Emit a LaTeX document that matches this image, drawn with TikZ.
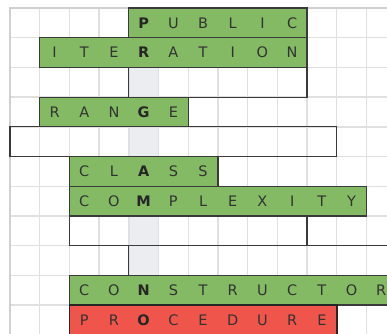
\documentclass[tikz,border=0pt]{standalone}
\usepackage{fontspec}
\setmainfont{DejaVu Sans}
\definecolor{gridc}{HTML}{E0E0E0}
\definecolor{gridouter}{HTML}{D0D0D0}
\definecolor{keyc}{HTML}{ECEDF0}
\definecolor{greenf}{HTML}{84BA64}
\definecolor{redf}{HTML}{F0554B}
\definecolor{edgec}{HTML}{3A3A3A}
\definecolor{txtc}{HTML}{333333}
\tikzset{
  gridline/.style={draw=gridc, line width=1.4pt},
  outerline/.style={draw=gridouter, line width=1.6pt},
  keycell/.style={fill=keyc, draw=none},
  greenbox/.style={fill=greenf, draw=edgec, line width=1.2pt},
  redbox/.style={fill=redf, draw=black!85, line width=1.8pt},
  emptyedge/.style={draw=edgec, line width=1.2pt},
  letter/.style={anchor=base, inner sep=0pt, text=txtc, font=\fontsize{14.5}{15}\selectfont},
  keyletter/.style={letter, text=black!85, font=\fontsize{14.5}{15}\selectfont\bfseries}
}
\newcommand\gx[1]{{10+29.7*(#1)}}
\newcommand\gy[1]{{8+29.7*(#1)}}
% #1 name, #2 row, #3 start col, #4 length, #5 letters, #6 box style
\newcommand\wordrow[6]{%
  \draw[#6] (\gx{#3},\gy{#2}) rectangle (\gx{#3+#4},\gy{#2+1});
  \foreach \l [count=\k from 0] in {#5} {
    \pgfmathtruncatemacro\cc{#3+\k}
    \ifnum\cc=4
      \node[keyletter] (#1-\k) at ({10+29.7*(\cc+0.5)},{8+29.7*(#2+0.5)+5.3}) {\l};
    \else
      \node[letter] (#1-\k) at ({10+29.7*(\cc+0.5)},{8+29.7*(#2+0.5)+5.3}) {\l};
    \fi
  }%
}
\begin{document}
\begin{tikzpicture}[x=1pt,y=-1pt]
\useasboundingbox (0,0) rectangle (387,333);
\clip (0,0) rectangle (387,333);
\fill[white] (0,0) rectangle (387,333);
% key column highlight in empty rows
\foreach \r in {2,4,7,8} {
  \fill[keycell] (\gx{4},\gy{\r}) rectangle (\gx{5},\gy{\r+1});
}
% grid
\foreach \i in {1,...,13} {
  \draw[gridline] (\gx{\i},\gy{0}) -- (\gx{\i},340);
}
\foreach \j in {1,...,11} {
  \draw[gridline] (\gx{0},\gy{\j}) -- (390,\gy{\j});
}
\draw[outerline] (\gx{0},340) -- (\gx{0},\gy{0}) -- (390,\gy{0});
% empty answer rows
\draw[emptyedge] (\gx{4},\gy{2}) rectangle (\gx{10},\gy{3});
\draw[emptyedge] (\gx{0},\gy{4}) rectangle (\gx{11},\gy{5});
\draw[emptyedge] (\gx{2},\gy{7}) rectangle (\gx{10},\gy{8});
\draw[emptyedge] (400,\gy{8}) -- (\gx{4},\gy{8}) -- (\gx{4},\gy{9});
% words
\wordrow{public}{0}{4}{6}{P,U,B,L,I,C}{greenbox}
\wordrow{iteration}{1}{1}{9}{I,T,E,R,A,T,I,O,N}{greenbox}
\wordrow{range}{3}{1}{5}{R,A,N,G,E}{greenbox}
\wordrow{class}{5}{2}{5}{C,L,A,S,S}{greenbox}
\wordrow{complexity}{6}{2}{10}{C,O,M,P,L,E,X,I,T,Y}{greenbox}
\wordrow{constructor}{9}{2}{11}{C,O,N,S,T,R,U,C,T,O,R}{greenbox}
\wordrow{procedure}{10}{2}{9}{P,R,O,C,E,D,U,R,E}{redbox}
\end{tikzpicture}
\end{document}
